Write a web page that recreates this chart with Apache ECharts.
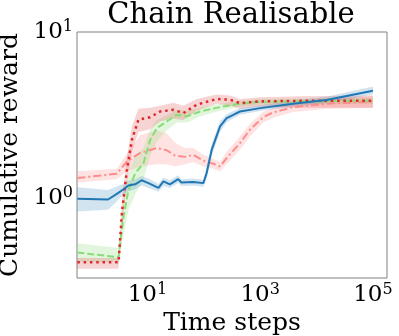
<!DOCTYPE html>
<html>
<head>
<meta charset="utf-8">
<script src="https://cdn.jsdelivr.net/npm/echarts@6/dist/echarts.min.js"></script>
<style>
  html, body { margin: 0; padding: 0; background: #fff; }
  #main { width: 399px; height: 336px; }
</style>
</head>
<body>
<div id="main"></div>
<script>
// time steps (log x) and cumulative reward (log y)
var blueT = [0.57, 2.0, 3.0, 3.76, 4.6, 6.05, 7.9, 10.4, 15.7, 19.2, 25, 35, 40, 65, 98, 112, 138, 194, 254, 333, 437, 1000, 3840, 15000, 100000];
var blueMean = [0.99, 0.98, 1.07, 1.13, 1.19, 1.21, 1.28, 1.23, 1.15, 1.26, 1.21, 1.30, 1.24, 1.25, 1.23, 1.41, 1.95, 2.70, 3.03, 3.17, 3.32, 3.48, 3.70, 3.90, 4.43];
var blueLo = [0.83, 0.85, 0.97, 1.05, 1.10, 1.13, 1.19, 1.15, 1.09, 1.18, 1.15, 1.23, 1.18, 1.19, 1.17, 1.30, 1.80, 2.50, 2.85, 3.02, 3.17, 3.34, 3.56, 3.74, 4.20];
var blueHi = [1.16, 1.12, 1.18, 1.22, 1.27, 1.30, 1.36, 1.31, 1.22, 1.33, 1.28, 1.37, 1.30, 1.31, 1.29, 1.55, 2.12, 2.90, 3.20, 3.34, 3.48, 3.62, 3.85, 4.08, 4.70];

var redT = [0.57, 3.07, 3.52, 4.32, 5.3, 6.9, 11.2, 16.8, 28.8, 43.4, 75, 169, 291, 437, 988, 5000, 100000];
var redMean = [0.41, 0.41, 0.81, 1.48, 2.24, 2.96, 3.07, 3.32, 3.40, 3.25, 3.65, 3.95, 3.91, 3.73, 3.82, 3.85, 3.86];
var redLo = [0.375, 0.375, 0.70, 1.20, 1.90, 2.50, 2.60, 2.90, 3.00, 2.95, 3.35, 3.70, 3.60, 3.45, 3.55, 3.50, 3.50];
var redHi = [0.435, 0.435, 0.95, 1.75, 2.70, 3.45, 3.50, 3.60, 3.75, 3.60, 3.95, 4.20, 4.15, 3.95, 4.05, 4.10, 4.15];

var greenT = [0.57, 3.07, 3.76, 4.6, 6.05, 8.5, 11.2, 14.7, 22, 33, 50, 86, 194, 437, 988, 100000];
var greenMean = [0.47, 0.44, 0.77, 1.12, 1.41, 1.62, 2.24, 2.64, 2.89, 3.17, 3.10, 3.32, 3.53, 3.70, 3.80, 3.86];
var greenLo = [0.415, 0.41, 0.60, 0.85, 1.05, 1.30, 1.80, 2.20, 2.55, 2.85, 2.85, 3.10, 3.35, 3.55, 3.65, 3.70];
var greenHi = [0.535, 0.50, 0.95, 1.40, 1.80, 2.00, 2.60, 2.95, 3.15, 3.40, 3.35, 3.50, 3.70, 3.85, 3.95, 4.00];

var salmonT = [0.57, 2.87, 4.32, 7.4, 14.7, 22, 31, 46, 65, 98, 147, 194, 254, 437, 658, 1130, 1700, 3840, 15000, 100000];
var salmonMean = [1.32, 1.40, 1.66, 1.87, 2.0, 1.94, 1.80, 1.77, 1.82, 1.68, 1.61, 1.55, 1.74, 2.14, 2.58, 3.07, 3.28, 3.53, 3.70, 3.80];
var salmonLo = [1.24, 1.30, 1.45, 1.55, 1.60, 1.60, 1.55, 1.60, 1.65, 1.55, 1.50, 1.45, 1.60, 1.95, 2.35, 2.85, 3.05, 3.30, 3.45, 3.50];
var salmonHi = [1.45, 1.50, 1.85, 2.40, 2.55, 2.45, 2.15, 2.00, 2.00, 1.82, 1.72, 1.65, 1.90, 2.35, 2.80, 3.30, 3.50, 3.75, 3.95, 4.10];

var xLabels = [1, 3, 5];   // exponents shown on the x axis
var yLabels = [0, 1];      // exponents shown on the y axis

var serif = 'DejaVu Serif';

function pairs(t, v) {
    return t.map((x, i) => [x, v[i]]);
}

// shaded band: one polygon drawn from all [t, lo, hi] rows through api.coord
function band(t, lo, hi, color) {
    var n = t.length;
    return {
        type: 'custom', silent: true, clip: true,
        data: t.map((x, i) => [x, lo[i], hi[i]]),
        renderItem: function (params, api) {
            if (params.dataIndexInside !== 0) return null;
            var top = [], bottom = [];
            for (var i = 0; i < n; i++) {
                var x = api.value(0, i);
                top.push(api.coord([x, api.value(2, i)]));
                bottom.push(api.coord([x, api.value(1, i)]));
            }
            return {
                type: 'polygon',
                shape: { points: top.concat(bottom.reverse()) },
                style: { fill: color }
            };
        }
    };
}

function line(t, v, color, type, width) {
    return {
        type: 'line', symbol: 'none', silent: true,
        lineStyle: { color: color, type: type, width: width, cap: 'butt' },
        data: pairs(t, v)
    };
}

function powLabel(shown) {
    return function (v) {
        var e = Math.log10(v), r = Math.round(e);
        if (Math.abs(e - r) > 1e-6 || shown.indexOf(r) < 0) return '';
        return '{b|10}{s|' + r + '}';
    };
}

var rich = {
    b: { fontFamily: serif, fontSize: 23, color: '#000', lineHeight: 26 },
    s: { fontFamily: serif, fontSize: 16, color: '#000', verticalAlign: 'top', lineHeight: 16 }
};

var myChart = echarts.init(document.getElementById('main'));

var series = [
    band(salmonT, salmonLo, salmonHi, 'rgba(255,140,140,0.25)'),
    band(greenT, greenLo, greenHi, 'rgba(140,220,120,0.25)'),
    band(redT, redLo, redHi, 'rgba(214,39,40,0.2)'),
    band(blueT, blueLo, blueHi, 'rgba(31,119,180,0.2)'),
    line(salmonT, salmonMean, '#ff8c8c', [8, 3, 2, 3], 2),
    line(greenT, greenMean, '#88dd77', [7, 3], 2),
    line(redT, redMean, '#e0282a', [2.5, 3.8], 2.5),
    line(blueT, blueMean, '#1f77b4', 'solid', 2)
];

var option = {
    animation: false,
    title: {
        text: 'Chain Realisable',
        left: 231, top: 0, textAlign: 'center', padding: [1, 0, 0, 0],
        textStyle: { fontFamily: serif, fontSize: 29, fontWeight: 'normal', color: '#000' }
    },
    grid: {
        left: 77, right: 12, top: 32, bottom: 58,
        containLabel: false, outerBoundsMode: 'none',
        show: true, borderColor: '#808080', borderWidth: 1
    },
    xAxis: {
        type: 'log', logBase: 10, min: 0.5623, max: 177828,
        axisLine: { show: false },
        axisTick: { show: false },
        splitLine: { show: false },
        axisLabel: { margin: 4, formatter: powLabel(xLabels), rich: rich, showMinLabel: false, showMaxLabel: false },
        name: 'Time steps', nameLocation: 'middle', nameGap: 30,
        nameTextStyle: { fontFamily: serif, fontSize: 25, color: '#000' }
    },
    yAxis: {
        type: 'log', logBase: 10, min: 0.33, max: 10,
        axisLine: { show: false },
        axisTick: { show: false },
        splitLine: { show: false },
        axisLabel: { margin: 4, align: 'right', formatter: powLabel(yLabels), rich: rich, showMinLabel: false },
        name: 'Cumulative reward', nameLocation: 'middle', nameGap: 52,
        nameTextStyle: { fontFamily: serif, fontSize: 25, color: '#000' }
    },
    series: series
};

myChart.setOption(option);
</script>
</body>
</html>
